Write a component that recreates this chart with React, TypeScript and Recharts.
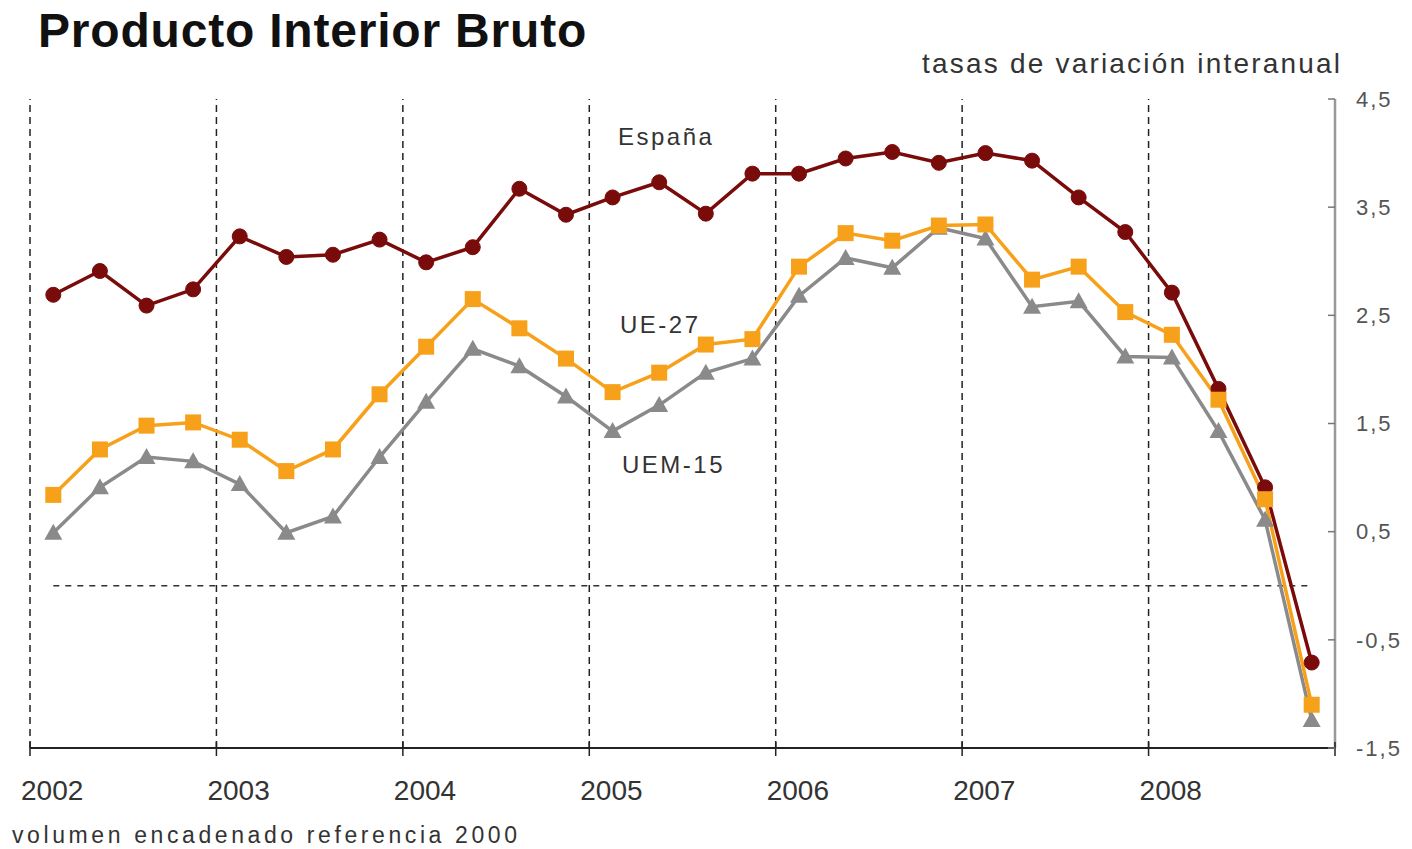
import React from 'react';
import { LineChart, Line, XAxis, YAxis, ReferenceLine } from 'recharts';

// quarterly year-on-year GDP growth, 2002 T1 .. 2008 T4
const quarters = [
  'I-02', 'II-02', 'III-02', 'IV-02',
  'I-03', 'II-03', 'III-03', 'IV-03',
  'I-04', 'II-04', 'III-04', 'IV-04',
  'I-05', 'II-05', 'III-05', 'IV-05',
  'I-06', 'II-06', 'III-06', 'IV-06',
  'I-07', 'II-07', 'III-07', 'IV-07',
  'I-08', 'II-08', 'III-08', 'IV-08',
];

const espana = [
  2.69, 2.91, 2.59, 2.74, 3.23, 3.04, 3.06, 3.2, 2.99, 3.13, 3.67, 3.43, 3.59, 3.73,
  3.44, 3.81, 3.81, 3.95, 4.01, 3.91, 4.0, 3.93, 3.59, 3.27, 2.71, 1.82, 0.91, -0.71,
];

const ue27 = [
  0.84, 1.26, 1.48, 1.51, 1.35, 1.06, 1.26, 1.77, 2.21, 2.65, 2.38, 2.1, 1.79, 1.97,
  2.23, 2.28, 2.95, 3.26, 3.19, 3.33, 3.34, 2.83, 2.95, 2.53, 2.32, 1.72, 0.8, -1.1,
];

const uem15 = [
  0.49, 0.91, 1.19, 1.15, 0.94, 0.49, 0.64, 1.19, 1.7, 2.19, 2.03, 1.75, 1.43, 1.67,
  1.97, 2.1, 2.68, 3.03, 2.94, 3.31, 3.21, 2.58, 2.63, 2.12, 2.11, 1.43, 0.61, -1.24,
];

const years = ['2002', '2003', '2004', '2005', '2006', '2007', '2008'];
const yearBoundaries = [0, 4, 8, 12, 16, 20, 24, 28];
const yTicks = [-1.5, -0.5, 0.5, 1.5, 2.5, 3.5, 4.5];

const RED = '#7a0b0b';
const ORANGE = '#f7a11a';
const GRAY = '#8a8a8a';
const FONT = '"Liberation Sans", Arial, sans-serif';

const data = quarters.map((q, i) => ({
  q,
  pos: i + 0.5,
  espana: espana[i],
  ue27: ue27[i],
  uem15: uem15[i],
}));

function YearTick(props: any) {
  const { x, y, payload } = props;
  const label = years[payload.value / 4];
  return (
    <g>
      <line x1={x} x2={x} y1={y - 6} y2={y + 8} stroke="#222" strokeWidth={1.5} />
      {label && (
        <text x={x - 9} y={y} dy={52} textAnchor="start" fontSize={28} fill="#333" fontFamily={FONT}>
          {label}
        </text>
      )}
    </g>
  );
}

function ValueTick(props: any) {
  const { x, y, payload } = props;
  return (
    <g>
      <line x1={x - 7} x2={x} y1={y} y2={y} stroke="#777" strokeWidth={1.5} />
      <text
        x={x + 21}
        y={y}
        dy="0.35em"
        textAnchor="start"
        fontSize={22}
        letterSpacing={2}
        fill="#555"
        fontFamily={FONT}
      >
        {String(payload.value).replace('.', ',')}
      </text>
    </g>
  );
}

function SquareDot(props: any) {
  const { cx, cy } = props;
  if (cx == null || cy == null) return null;
  return <rect x={cx - 8} y={cy - 8} width={16} height={16} fill={ORANGE} />;
}

function TriangleDot(props: any) {
  const { cx, cy } = props;
  if (cx == null || cy == null) return null;
  return (
    <polygon
      points={`${cx},${cy - 9} ${cx - 9},${cy + 7} ${cx + 9},${cy + 7}`}
      fill={GRAY}
    />
  );
}

const textStyle: React.CSSProperties = {
  position: 'absolute',
  fontFamily: FONT,
  whiteSpace: 'nowrap',
  color: '#333',
};

export default function App() {
  return (
    <div
      style={{
        position: 'absolute',
        left: 0,
        top: 0,
        width: 1412,
        height: 849,
        background: '#fff',
        overflow: 'hidden',
      }}
    >
      <LineChart
        width={1412}
        height={849}
        data={data}
        margin={{ top: 99, right: 7, left: 30, bottom: 41 }}
      >
        <XAxis
          dataKey="pos"
          type="number"
          domain={[0, 28]}
          ticks={yearBoundaries}
          interval={0}
          tickSize={0}
          tickMargin={0}
          tick={<YearTick />}
          axisLine={{ stroke: '#222', strokeWidth: 2 }}
          height={60}
        />
        <YAxis
          orientation="right"
          type="number"
          domain={[-1.5, 4.5]}
          ticks={yTicks}
          interval={0}
          tickSize={0}
          tickMargin={0}
          tick={<ValueTick />}
          axisLine={{ stroke: '#999', strokeWidth: 2.5 }}
          width={70}
        />

        {yearBoundaries.slice(0, 7).map((b) => (
          <ReferenceLine key={b} x={b} stroke="#222" strokeWidth={1.5} strokeDasharray="7 5" />
        ))}
        <ReferenceLine
          segment={[
            { x: 0.5, y: 0 },
            { x: 27.5, y: 0 },
          ]}
          stroke="#333"
          strokeWidth={1.5}
          strokeDasharray="6 6"
        />

        <Line
          dataKey="uem15"
          type="linear"
          stroke={GRAY}
          strokeWidth={3.5}
          dot={<TriangleDot />}
          activeDot={false}
          isAnimationActive={false}
        />
        <Line
          dataKey="espana"
          type="linear"
          stroke={RED}
          strokeWidth={3.5}
          dot={{ r: 7.5, fill: RED, stroke: RED, strokeWidth: 1 }}
          activeDot={false}
          isAnimationActive={false}
        />
        <Line
          dataKey="ue27"
          type="linear"
          stroke={ORANGE}
          strokeWidth={3.5}
          dot={<SquareDot />}
          activeDot={false}
          isAnimationActive={false}
        />
      </LineChart>

      <div style={{ ...textStyle, left: 38, top: 7, fontSize: 48, lineHeight: '48px', fontWeight: 700, letterSpacing: 0.8, color: '#111' }}>
        Producto Interior Bruto
      </div>
      <div style={{ ...textStyle, left: 922, top: 50, fontSize: 28, lineHeight: '28px', letterSpacing: 2.2 }}>
        tasas de variación interanual
      </div>
      <div style={{ ...textStyle, left: 618, top: 125, fontSize: 24, lineHeight: '24px', letterSpacing: 2.5 }}>
        España
      </div>
      <div style={{ ...textStyle, left: 620, top: 313, fontSize: 24, lineHeight: '24px', letterSpacing: 2.5 }}>
        UE-27
      </div>
      <div style={{ ...textStyle, left: 622, top: 453, fontSize: 24, lineHeight: '24px', letterSpacing: 2.5 }}>
        UEM-15
      </div>
      <div style={{ ...textStyle, left: 12, top: 824, fontSize: 23, lineHeight: '23px', letterSpacing: 3.6 }}>
        volumen encadenado referencia 2000
      </div>
    </div>
  );
}
